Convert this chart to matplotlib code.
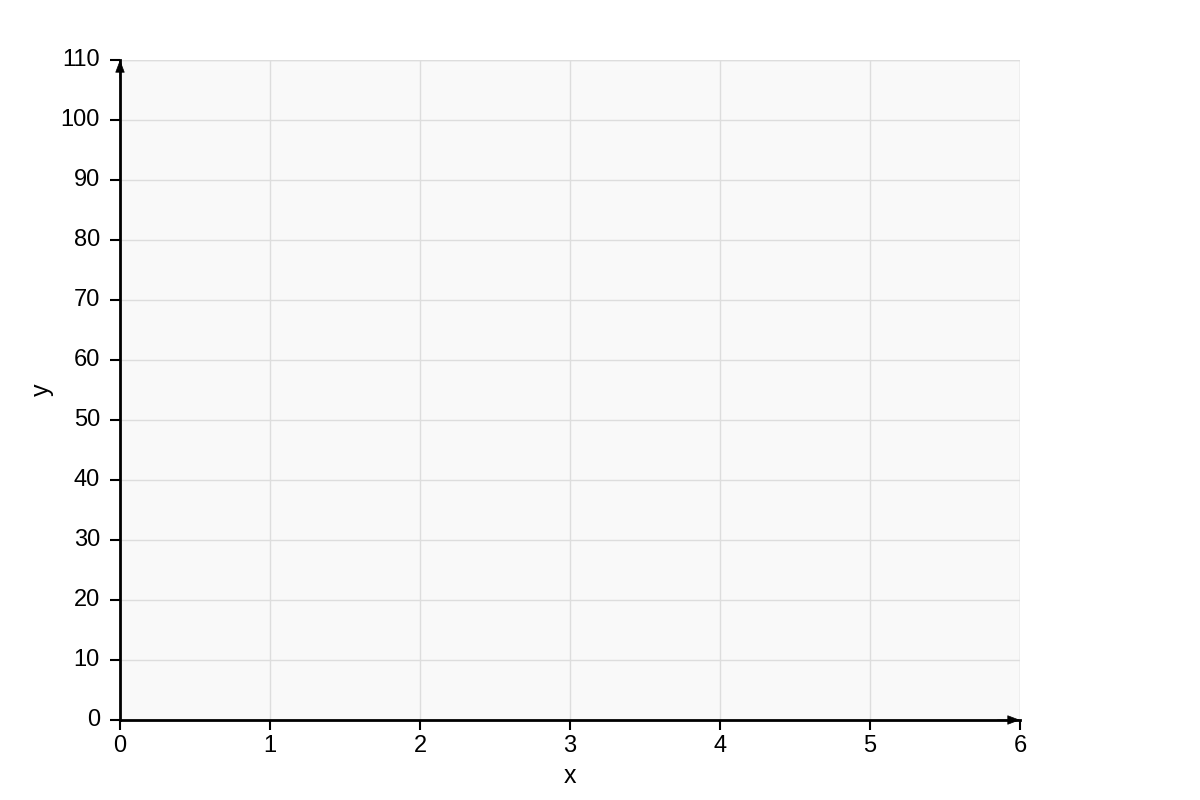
import matplotlib.pyplot as plt
import numpy as np

plt.rcParams['font.family'] = ['Liberation Sans', 'DejaVu Sans']

x_ticks = [0, 1, 2, 3, 4, 5, 6]
y_ticks = [0, 10, 20, 30, 40, 50, 60, 70, 80, 90, 100, 110]
x_max = 6
y_max = 110

fig = plt.figure(figsize=(12, 8), dpi=100)
ax = fig.add_axes([0.1, 0.1, 0.75, 0.825])
ax.set_facecolor('#f9f9f9')

ax.set_xlim(0, x_max)
ax.set_ylim(0, y_max)
ax.set_xticks(x_ticks)
ax.set_yticks(y_ticks)
ax.grid(True, color='#dddddd', linewidth=1)
ax.set_axisbelow(True)

for side in ['top', 'right']:
    ax.spines[side].set_visible(False)
for side in ['left', 'bottom']:
    ax.spines[side].set_linewidth(2)
    ax.spines[side].set_color('black')

# light border lines on the far edges
ax.axhline(y_max, color='#dddddd', linewidth=1, zorder=0.5)
ax.axvline(x_max, color='#dddddd', linewidth=1, zorder=0.5)

ax.tick_params(axis='both', direction='out', length=7.5, width=1.5,
               labelsize=17, colors='black')
ax.tick_params(axis='y', pad=7)
ax.tick_params(axis='x', pad=3)
for lbl in ax.get_yticklabels():
    lbl.set_verticalalignment('center')

# arrow heads on the axes, tip at the axis end
arrow = dict(arrowstyle='-|>,head_length=0.45,head_width=0.17', color='black',
             lw=0.5, mutation_scale=18, shrinkA=0, shrinkB=0)
ax.annotate('', xy=(0, y_max), xytext=(0, y_max - 3), arrowprops=arrow,
            annotation_clip=False)
ax.annotate('', xy=(x_max, 0), xytext=(x_max - 0.15, 0), arrowprops=arrow,
            annotation_clip=False)

ax.set_xlabel('x', fontsize=18, labelpad=5)
ax.set_ylabel('y', fontsize=18, labelpad=5)

fig.savefig('out.png', dpi=100)
